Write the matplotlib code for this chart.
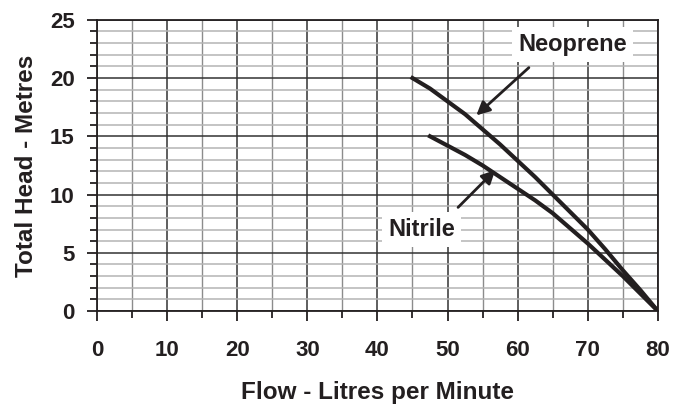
import matplotlib.pyplot as plt
from matplotlib.ticker import MultipleLocator

plt.rcParams['font.family'] = ['Liberation Sans', 'DejaVu Sans']

# Pump curves
neoprene_flow = [45, 47.5, 50, 52.5, 55, 57.5, 60, 62.5, 65, 67.5, 70, 72.5, 75, 77.5, 80]
neoprene_head = [20.0, 19.1, 18.0, 16.9, 15.6, 14.3, 12.9, 11.5, 10.0, 8.5, 7.0, 5.3, 3.5, 1.8, 0.0]
nitrile_flow = [47.5, 50, 52.5, 55, 57.5, 60, 62.5, 65, 67.5, 70, 72.5, 75, 77.5, 80]
nitrile_head = [15.0, 14.2, 13.4, 12.5, 11.5, 10.5, 9.5, 8.4, 7.1, 5.8, 4.4, 3.0, 1.5, 0.0]

x_ticks = [0, 10, 20, 30, 40, 50, 60, 70, 80]
y_ticks = [0, 5, 10, 15, 20, 25]

ink = '#231f20'

fig = plt.figure(figsize=(6.86, 4.05), dpi=100)
ax = fig.add_axes([0.1414, 0.232, 0.8176, 0.719])

ax.set_xlim(0, 80)
ax.set_ylim(0, 25)
ax.set_xticks(x_ticks)
ax.set_yticks(y_ticks)
ax.xaxis.set_minor_locator(MultipleLocator(5))
ax.yaxis.set_minor_locator(MultipleLocator(1))

# grid: light minor, darker major
ax.grid(which='minor', axis='y', color='#b4b4b4', linewidth=1.1)
ax.grid(which='minor', axis='x', color='#8c8c8c', linewidth=1.0)
ax.grid(which='major', axis='both', color='#333333', linewidth=1.1)
ax.set_axisbelow(True)

for s in ax.spines.values():
    s.set_linewidth(1.3)
    s.set_color(ink)

ax.tick_params(which='major', length=7, width=1.3, color=ink, labelsize=16, labelcolor=ink)
ax.tick_params(which='minor', length=5, width=1.3, color=ink)
ax.tick_params(axis='x', which='major', pad=13.5)
ax.tick_params(axis='y', which='major', pad=9)
for lbl in ax.get_xticklabels() + ax.get_yticklabels():
    lbl.set_fontweight('bold')

ax.plot(neoprene_flow, neoprene_head, color=ink, linewidth=3, zorder=3)
ax.plot(nitrile_flow, nitrile_head, color=ink, linewidth=3, zorder=3)

box = dict(boxstyle='square,pad=0.25', facecolor='white', edgecolor='none')
arrow = dict(arrowstyle='-|>', color=ink, lw=2, mutation_scale=20, shrinkA=0, shrinkB=0)
ax.text(67.85, 22.9, 'Neoprene', fontsize=17, fontweight='bold', color=ink,
        ha='center', va='center', bbox=box, zorder=4)
ax.annotate('', xy=(54.1, 16.8), xytext=(61.6, 20.9), arrowprops=arrow, zorder=4)
ax.text(46.3, 7.0, 'Nitrile', fontsize=17, fontweight='bold', color=ink,
        ha='center', va='center', bbox=box, zorder=4)
ax.annotate('', xy=(56.8, 12.1), xytext=(51.5, 8.9), arrowprops=arrow, zorder=4)

ax.set_xlabel('Flow - Litres per Minute', fontsize=17.5, fontweight='bold', color=ink, labelpad=15)
ax.set_ylabel('Total Head - Metres', fontsize=17.5, fontweight='bold', color=ink, labelpad=9)

fig.savefig('out.png', dpi=100)
